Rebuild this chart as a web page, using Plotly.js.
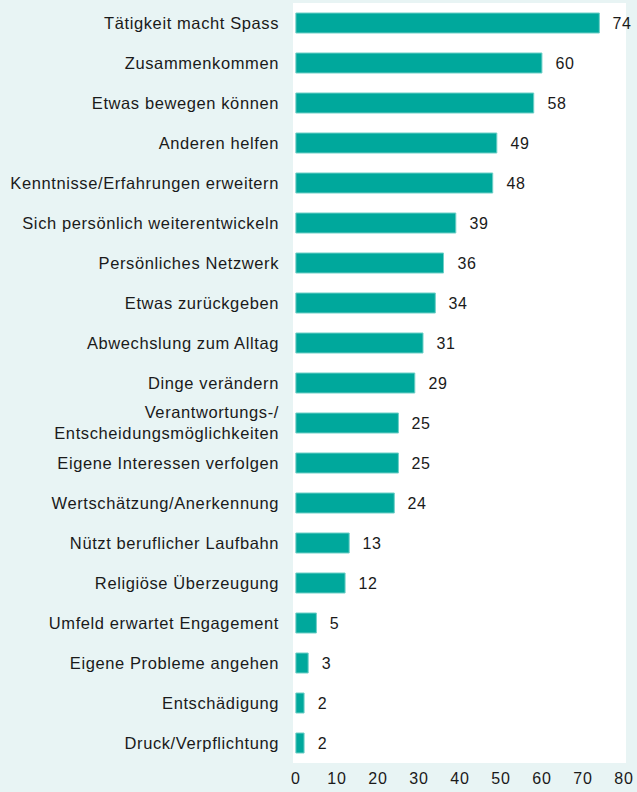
<!DOCTYPE html>
<html><head><meta charset="utf-8">
<script src="https://cdn.plot.ly/plotly-3.0.1.min.js"></script>
<style>
html,body{margin:0;padding:0;background:#e8f4f4;}
#chart .ytick text{letter-spacing:0.6px;}
#chart .xtick text{letter-spacing:0.8px;}
#chart .annotation-text{letter-spacing:0.5px;}
</style>
</head><body>
<div id="chart" style="width:637px;height:792px;"></div>
<script>
const categories = [
  "Tätigkeit macht Spass",
  "Zusammenkommen",
  "Etwas bewegen können",
  "Anderen helfen",
  "Kenntnisse/Erfahrungen erweitern",
  "Sich persönlich weiterentwickeln",
  "Persönliches Netzwerk",
  "Etwas zurückgeben",
  "Abwechslung zum Alltag",
  "Dinge verändern",
  "Verantwortungs-/<br>Entscheidungsmöglichkeiten",
  "Eigene Interessen verfolgen",
  "Wertschätzung/Anerkennung",
  "Nützt beruflicher Laufbahn",
  "Religiöse Überzeugung",
  "Umfeld erwartet Engagement",
  "Eigene Probleme angehen",
  "Entschädigung",
  "Druck/Verpflichtung"
];
const values = [74, 60, 58, 49, 48, 39, 36, 34, 31, 29, 25, 25, 24, 13, 12, 5, 3, 2, 2];
const xTicks = [0, 10, 20, 30, 40, 50, 60, 70, 80];

const annotations = values.map((v, i) => ({
  x: v, y: categories[i], xref: 'x', yref: 'y',
  text: String(v), showarrow: false, xanchor: 'left', xshift: 12,
  font: {family: 'Liberation Sans, Arial, sans-serif', size: 16, color: '#1a1a1a'}
}));

Plotly.newPlot('chart', [{
  type: 'bar', orientation: 'h',
  x: values, y: categories,
  marker: {color: '#00a89c', line: {color: '#6fcfc7', width: 1}},
  width: 0.5, hoverinfo: 'none'
}], {
  width: 637, height: 792,
  margin: {l: 293, r: 11, t: 3, b: 29},
  paper_bgcolor: '#e8f4f4', plot_bgcolor: '#ffffff',
  font: {family: 'Liberation Sans, Arial, sans-serif', size: 16, color: '#1a1a1a'},
  showlegend: false,
  xaxis: {range: [-0.7, 80.5], tickvals: xTicks, ticktext: xTicks.map(String),
          showgrid: false, zeroline: false, showline: false, ticks: '',
          ticklabelstandoff: 4, tickfont: {size: 16}, fixedrange: true},
  yaxis: {autorange: 'reversed', showgrid: false, zeroline: false, showline: false,
          ticks: '', ticklabelstandoff: 13, tickfont: {size: 16.5}, fixedrange: true},
  annotations: annotations
}, {displayModeBar: false, staticPlot: true});
</script>
</body></html>
